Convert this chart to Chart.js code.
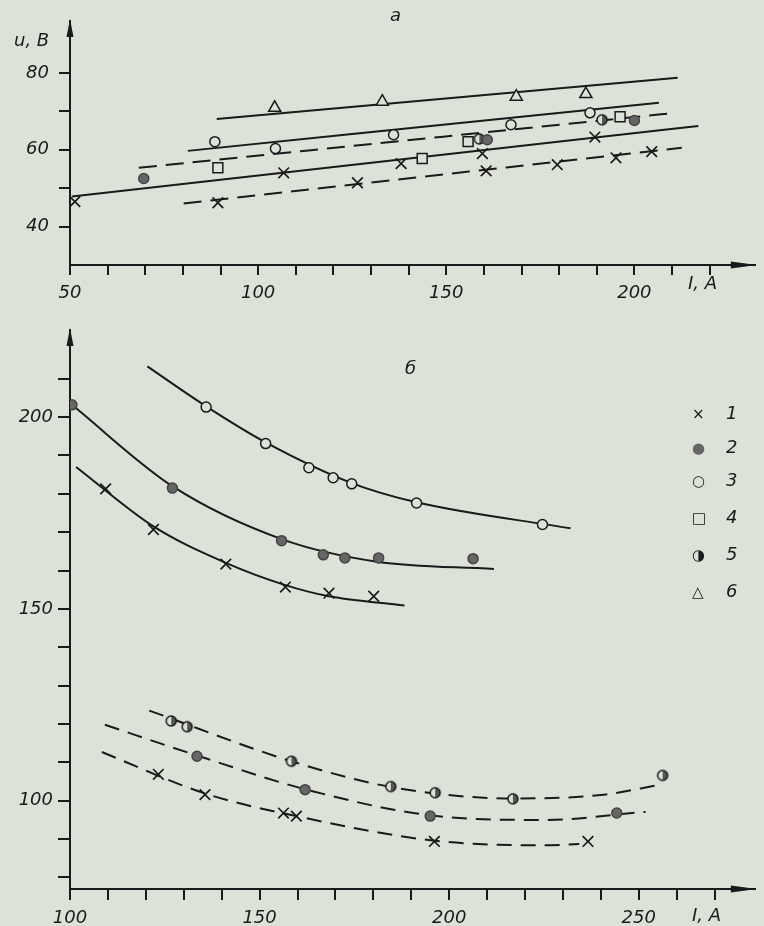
<!DOCTYPE html>
<html lang="ru">
<head>
<meta charset="UTF-8">
<title>u(I)</title>
<style>
    body {
        margin: 0;
        background: #dde2d8;
        width: 764px;
        height: 926px;
        position: relative;
        overflow: hidden;
        font-family: 'DejaVu Sans', sans-serif;
        color: #1a1a1a;
    }
    canvas { position: absolute; left: 0; }
    #topChart { top: 0; }
    #bottomChart { top: 300px; }
    .lbl {
        position: absolute;
        font-style: italic;
        font-size: 18px;
        line-height: 18px;
        white-space: pre;
    }
    .legend-row {
        position: absolute;
        left: 692px;
        font-size: 18px;
        line-height: 18px;
    }
    .legend-row .m { display: inline-block; width: 34px; font-size: 15px; }
    .legend-row .t { font-style: italic; }
</style>
</head>
<body>

<canvas id="topChart" width="764" height="300"></canvas>
<canvas id="bottomChart" width="764" height="626"></canvas>

<div class="lbl" style="left:14px;top:31px">u, В</div>
<div class="lbl" style="left:390px;top:6px">а</div>
<div class="lbl" style="left:688px;top:274px">I, А</div>
<div class="lbl" style="left:405px;top:359px">б</div>
<div class="lbl" style="left:692px;top:906px">I, А</div>

<div class="legend-row" style="top:404px"><span class="m">×</span><span class="t">1</span></div>
<div class="legend-row" style="top:438px"><span class="m" style="color:#666">●</span><span class="t">2</span></div>
<div class="legend-row" style="top:471px"><span class="m">○</span><span class="t">3</span></div>
<div class="legend-row" style="top:508px"><span class="m">□</span><span class="t">4</span></div>
<div class="legend-row" style="top:545px"><span class="m">◑</span><span class="t">5</span></div>
<div class="legend-row" style="top:582px"><span class="m">△</span><span class="t">6</span></div>

<script src="https://cdn.jsdelivr.net/npm/chart.js"></script>
<script>
    // ---- panel "а": u (В) vs I (А) ----
    const topXTicks = [50, 60, 70, 80, 90, 100, 110, 120, 130, 140, 150, 160, 170, 180, 190, 200, 210, 220];
    const topYTicks = [40, 50, 60, 70, 80];

    // measured points
    const topCross = [[51.3, 46.5], [106.8, 54], [138, 56.4], [159.6, 59], [189.5, 63.3],
        [89.3, 46.2], [126.4, 51.4], [160.6, 54.5], [179.5, 56.1], [195.1, 57.9], [204.6, 59.5]];
    const topFilled = [[69.6, 52.5], [160.9, 62.6], [200, 67.6]];
    const topOpen = [[88.5, 62.1], [104.6, 60.3], [136, 63.9], [167.2, 66.5], [188.2, 69.6]];
    const topSquare = [[89.3, 55.3], [143.6, 57.7], [155.8, 62.1], [196.2, 68.6]];
    const topHalf = [[158.8, 62.8], [191.4, 67.8]];
    const topTriangle = [[104.4, 70.9], [133, 72.5], [168.6, 73.8], [187.1, 74.5]];

    // fitted lines (end points)
    const topLine6 = [[89, 68], [211.5, 78.7]];
    const topLine3 = [[81.3, 59.7], [206.5, 72.2]];
    const topDashUpper = [[68.3, 55.3], [211, 69.6]];
    const topLine1 = [[50.5, 47.8], [217, 66.2]];
    const topDashLower = [[80.2, 46], [212.6, 60.5]];

    // ---- panel "б" ----
    const botXTicks = [100, 110, 120, 130, 140, 150, 160, 170, 180, 190, 200, 210, 220, 230, 240, 250, 260, 270];
    const botYTicks = [80, 90, 100, 110, 120, 130, 140, 150, 160, 170, 180, 190, 200, 210];

    const botCross = [[109.4, 181.3], [122, 170.7], [141.1, 161.7], [156.8, 155.7], [168.3, 154.1], [180.1, 153.3],
        [123.3, 106.9], [135.6, 101.6], [156.3, 96.8], [159.7, 96], [196.1, 89.4], [236.6, 89.4]];
    const botFilled = [[100.5, 203.2], [127, 181.5], [155.8, 167.8], [166.8, 164.1], [172.5, 163.3], [181.4, 163.3], [206.3, 163.1],
        [133.5, 111.6], [162, 102.9], [195, 96], [244.2, 96.8]];
    const botOpen = [[135.9, 202.6], [151.6, 193.1], [163, 186.8], [169.4, 184.2], [174.3, 182.6], [191.4, 177.6], [224.6, 172]];
    const botHalf = [[126.7, 120.8], [130.9, 119.3], [158.4, 110.3], [184.6, 103.7], [196.3, 102.1], [216.8, 100.5], [256.3, 106.6]];

    // curves
    const botCurve3 = [[120.4, 213.2], [135.9, 202.8], [151.6, 193.4], [174.3, 182.8], [191.4, 177.8], [232, 171]];
    const botCurve2 = [[100.5, 203.2], [127, 182], [155.8, 168.2], [181, 162.3], [211.8, 160.4]];
    const botCurve1 = [[101.6, 187], [122, 171.5], [141.1, 162], [156.8, 156.2], [168.3, 153.3], [188.2, 150.9]];
    const botDash5 = [[120.9, 123.5], [158.4, 110.3], [184.6, 103.6], [216.8, 100.6], [240, 101.5], [255.8, 104.2]];
    const botDash2 = [[109.2, 119.8], [133.5, 111.8], [162, 103], [195, 96.2], [224.9, 95], [251.8, 97.1]];
    const botDash1 = [[108.4, 112.7], [135.6, 101.9], [159.7, 96], [196.1, 89.6], [224.9, 88.4], [234.3, 88.7]];

    const BG = '#dde2d8';
    const INK = '#1a1a1a';
    const GREY = '#666';
    const FONT = { family: "'DejaVu Sans', sans-serif", size: 18, style: 'italic' };

    const pts = arr => arr.map(p => ({ x: p[0], y: p[1] }));

    // half-filled circle marker (symbol 5)
    function halfDot(r) {
        const c = document.createElement('canvas');
        c.width = c.height = 2 * r + 4;
        const g = c.getContext('2d');
        const m = r + 2;
        g.fillStyle = BG;
        g.beginPath(); g.arc(m, m, r, 0, 2 * Math.PI); g.fill();
        g.fillStyle = '#555';
        g.beginPath(); g.arc(m, m, r, -Math.PI / 2, Math.PI / 2); g.closePath(); g.fill();
        g.strokeStyle = INK; g.lineWidth = 1.5;
        g.beginPath(); g.arc(m, m, r, 0, 2 * Math.PI); g.stroke();
        return c;
    }
    const halfImg = halfDot(5);

    function markers(data, style) {
        const base = {
            data: pts(data), showLine: false, pointRadius: 5, borderWidth: 1.5,
            pointBorderColor: INK, pointBackgroundColor: BG, pointStyle: 'circle'
        };
        if (style === 'cross') Object.assign(base, { pointStyle: 'crossRot', pointRadius: 7.5, borderWidth: 1.7 });
        if (style === 'filled') Object.assign(base, { pointBackgroundColor: GREY, pointBorderColor: '#444' });
        if (style === 'rect') Object.assign(base, { pointStyle: 'rect', pointRadius: 7 });
        if (style === 'triangle') Object.assign(base, { pointStyle: 'triangle', pointRadius: 7 });
        if (style === 'half') Object.assign(base, { pointStyle: halfImg });
        return base;
    }

    function curve(data, dashed, dash) {
        return {
            data: pts(data), showLine: true, pointRadius: 0, borderColor: INK, borderWidth: 2,
            borderDash: dashed ? dash : [], cubicInterpolationMode: 'monotone', fill: false
        };
    }

    // arrow heads on the axis ends
    const arrowPlugin = {
        id: 'arrows',
        afterDraw(chart) {
            const { left, right, top, bottom } = chart.chartArea;
            const ctx = chart.ctx;
            ctx.save();
            ctx.fillStyle = INK;
            ctx.beginPath();
            ctx.moveTo(left, top - 2); ctx.lineTo(left - 3.5, top + 16); ctx.lineTo(left + 3.5, top + 16);
            ctx.closePath(); ctx.fill();
            ctx.beginPath();
            ctx.moveTo(right + 2, bottom); ctx.lineTo(right - 24, bottom - 3.5); ctx.lineTo(right - 24, bottom + 3.5);
            ctx.closePath(); ctx.fill();
            ctx.restore();
        }
    };

    function axis(ticks, min, max, labelEvery, opts) {
        return {
            type: 'linear', min: min, max: max,
            afterBuildTicks: s => { s.ticks = ticks.map(v => ({ value: v })); },
            afterFit: s => {
                if (opts.width) s.width = opts.width;
                if (opts.height) s.height = opts.height;
                s.paddingTop = s.paddingBottom = s.paddingLeft = s.paddingRight = 0;
            },
            border: { display: true, color: INK, width: 2 },
            grid: { drawOnChartArea: false, drawTicks: true, tickLength: opts.tickLength, color: INK, lineWidth: 2 },
            ticks: {
                color: INK, font: FONT, padding: opts.pad, autoSkip: false, maxRotation: 0,
                callback: v => (v % labelEvery === 0 ? String(v) : '')
            }
        };
    }

    new Chart(document.getElementById('topChart'), {
        type: 'scatter',
        data: {
            datasets: [
                markers(topCross, 'cross'),
                markers(topFilled, 'filled'),
                markers(topOpen, 'open'),
                markers(topSquare, 'rect'),
                markers(topHalf, 'half'),
                markers(topTriangle, 'triangle'),
                curve(topLine6, false),
                curve(topLine3, false),
                curve(topDashUpper, true, [18, 9]),
                curve(topLine1, false),
                curve(topDashLower, true, [18, 9])
            ]
        },
        options: {
            responsive: false,
            animation: false,
            layout: { padding: { left: 0, top: 21, right: 7, bottom: 0 } },
            plugins: { legend: { display: false }, tooltip: { enabled: false } },
            scales: {
                x: axis(topXTicks, 50, 232, 50, { height: 35, tickLength: 10, pad: 8 }),
                y: axis(topYTicks, 30, 93.5, 20, { width: 70, tickLength: 11, pad: 10 })
            }
        },
        plugins: [arrowPlugin]
    });

    new Chart(document.getElementById('bottomChart'), {
        type: 'scatter',
        data: {
            datasets: [
                markers(botCross, 'cross'),
                markers(botFilled, 'filled'),
                markers(botOpen, 'open'),
                markers(botHalf, 'half'),
                curve(botCurve3, false),
                curve(botCurve2, false),
                curve(botCurve1, false),
                curve(botDash5, true, [15, 9]),
                curve(botDash2, true, [15, 9]),
                curve(botDash1, true, [15, 9])
            ]
        },
        options: {
            responsive: false,
            animation: false,
            layout: { padding: { left: 0, top: 30, right: 4, bottom: 0 } },
            plugins: { legend: { display: false }, tooltip: { enabled: false } },
            scales: {
                x: axis(botXTicks, 100, 280.6, 50, { height: 37, tickLength: 11, pad: 8 }),
                y: axis(botYTicks, 77, 222.7, 50, { width: 70, tickLength: 12, pad: 5 })
            }
        },
        plugins: [arrowPlugin]
    });
</script>
</body>
</html>
